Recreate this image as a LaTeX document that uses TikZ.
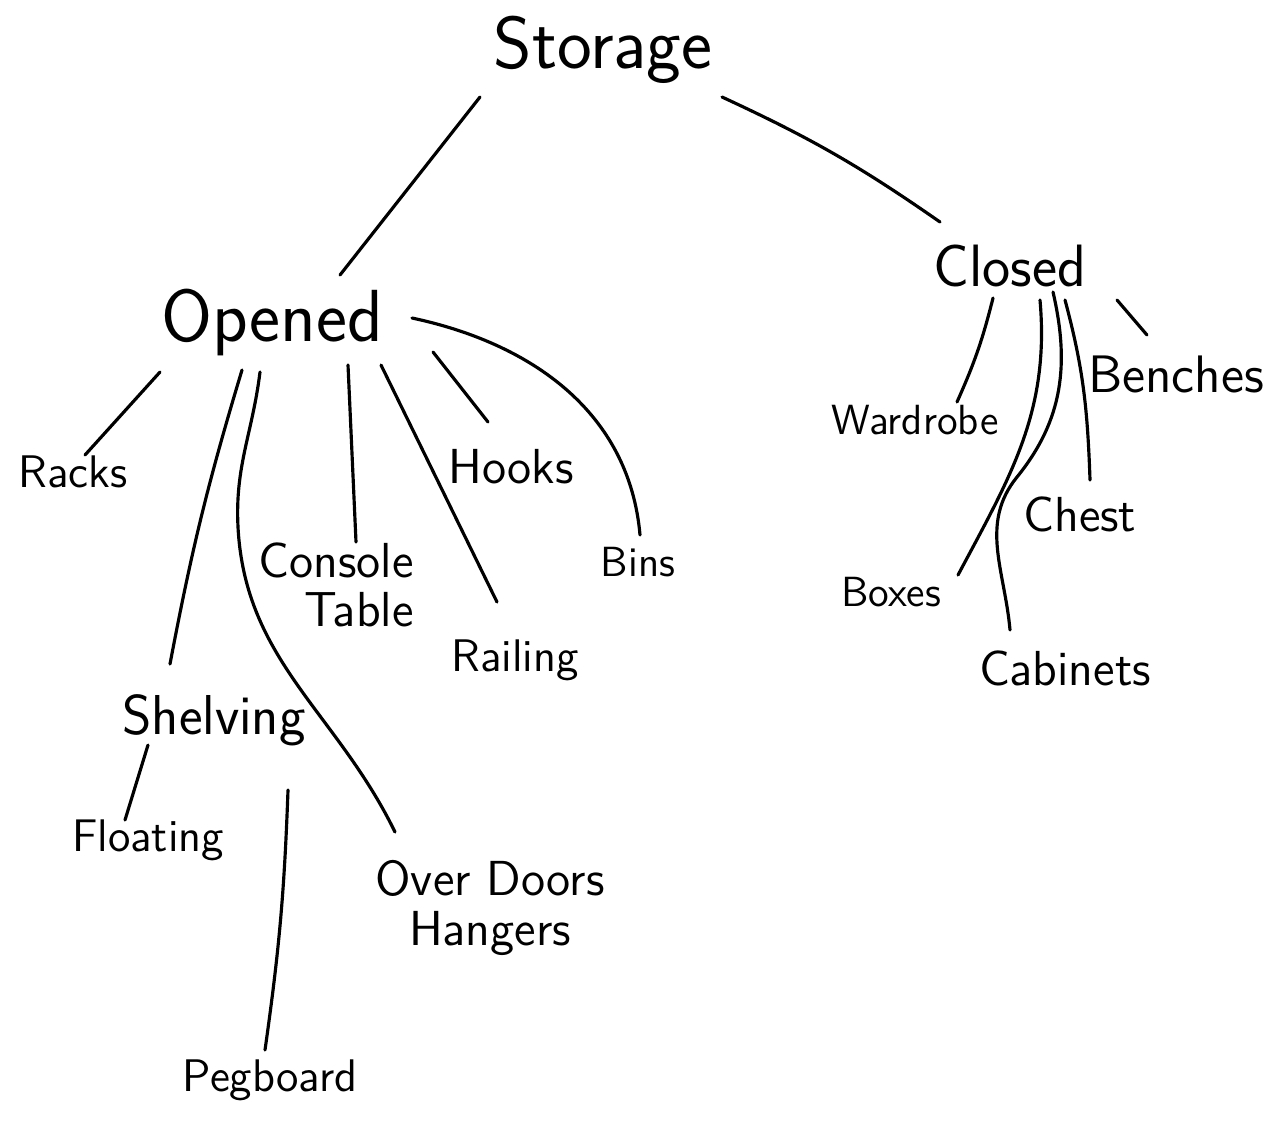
\documentclass[tikz,border=0pt]{standalone}
\usepackage{fontspec}
\usetikzlibrary{calc}
\tikzset{
  word/.style={inner sep=1pt, font=\sffamily\fontsize{#1}{#1}\selectfont},
  branch/.style={line width=0.9pt, line cap=round}
}
\begin{document}
\begin{tikzpicture}
    \useasboundingbox[fill=white] (0,0) rectangle (12.65,-11.28);
    % top level
    \node[word=21] (storage) at (6.03,-0.50) {Storage};
    \node[word=21] (opened) at (2.72,-3.22) {Opened};
    \node[word=17] (closed) at (10.10,-2.66) {Closed};
    % open storage
    \node[word=13] (racks) at (0.73,-4.72) {Racks};
    \node[word=16] (shelving) at (2.14,-7.20) {Shelving};
    \node[word=14,align=right] (console) at (3.36,-5.85) {Console\\Table};
    \node[word=14] (hooks) at (5.11,-4.67) {Hooks};
    \node[word=13] (railing) at (5.15,-6.60) {Railing};
    \node[word=12] (bins) at (6.38,-5.62) {Bins};
    \node[word=13] (floating) at (1.48,-8.40) {Floating};
    \node[word=13] (pegboard) at (2.70,-10.80) {Pegboard};
    \node[word=14,align=center] (overdoors) at (4.90,-9.08) {Over Doors\\Hangers};
    % closed storage
    \node[word=12] (wardrobe) at (9.15,-4.20) {Wardrobe};
    \node[word=15] (benches) at (11.76,-3.74) {Benches};
    \node[word=14] (chest) at (10.80,-5.14) {Chest};
    \node[word=12] (boxes) at (8.91,-5.92) {Boxes};
    \node[word=14] (cabinets) at (10.65,-6.68) {Cabinets};
    % branches
    \draw[branch] ($(storage)+(-1.23,-0.47)$) -- ($(opened)+(0.68,0.47)$);
    \draw[branch] ($(storage)+(1.19,-0.47)$) to[bend left=5] ($(closed)+(-0.70,0.44)$);
    \draw[branch] ($(opened)+(-1.12,-0.50)$) -- ($(racks)+(0.12,0.17)$);
    \draw[branch] ($(opened)+(-0.30,-0.48)$) to[bend right=3] ($(shelving)+(-0.44,0.56)$);
    \draw[branch] ($(opened)+(-0.12,-0.50)$) to[out=-97,in=93] ++(-0.22,-1.55)
        to[out=-87,in=116] ($(overdoors)+(-0.95,0.76)$);
    \draw[branch] ($(opened)+(0.76,-0.43)$) -- ($(console)+(0.20,0.43)$);
    \draw[branch] ($(opened)+(1.09,-0.43)$) -- ($(railing)+(-0.18,0.58)$);
    \draw[branch] ($(opened)+(1.61,-0.30)$) -- ($(hooks)+(-0.23,0.45)$);
    \draw[branch] ($(opened)+(1.40,0.04)$) to[out=-12,in=95] ($(bins)+(0.02,0.27)$);
    \draw[branch] ($(shelving)+(-0.66,-0.25)$) -- ($(floating)+(-0.23,0.20)$);
    \draw[branch] ($(shelving)+(0.74,-0.70)$) to[bend left=3] ($(pegboard)+(-0.05,0.30)$);
    \draw[branch] ($(closed)+(-0.17,-0.32)$) to[bend left=5] ($(wardrobe)+(0.42,0.18)$);
    \draw[branch] ($(closed)+(0.30,-0.34)$) to[out=-85,in=62] ($(boxes)+(0.67,0.17)$);
    \draw[branch] ($(closed)+(0.43,-0.26)$) to[out=-77,in=51] ++(-0.36,-1.85)
        to[out=-129,in=95] ($(cabinets)+(-0.55,0.38)$);
    \draw[branch] ($(closed)+(0.55,-0.34)$) to[out=-75,in=92] ($(chest)+(0.10,0.34)$);
    \draw[branch] ($(closed)+(1.07,-0.34)$) -- ($(benches)+(-0.29,0.39)$);
\end{tikzpicture}
\end{document}
